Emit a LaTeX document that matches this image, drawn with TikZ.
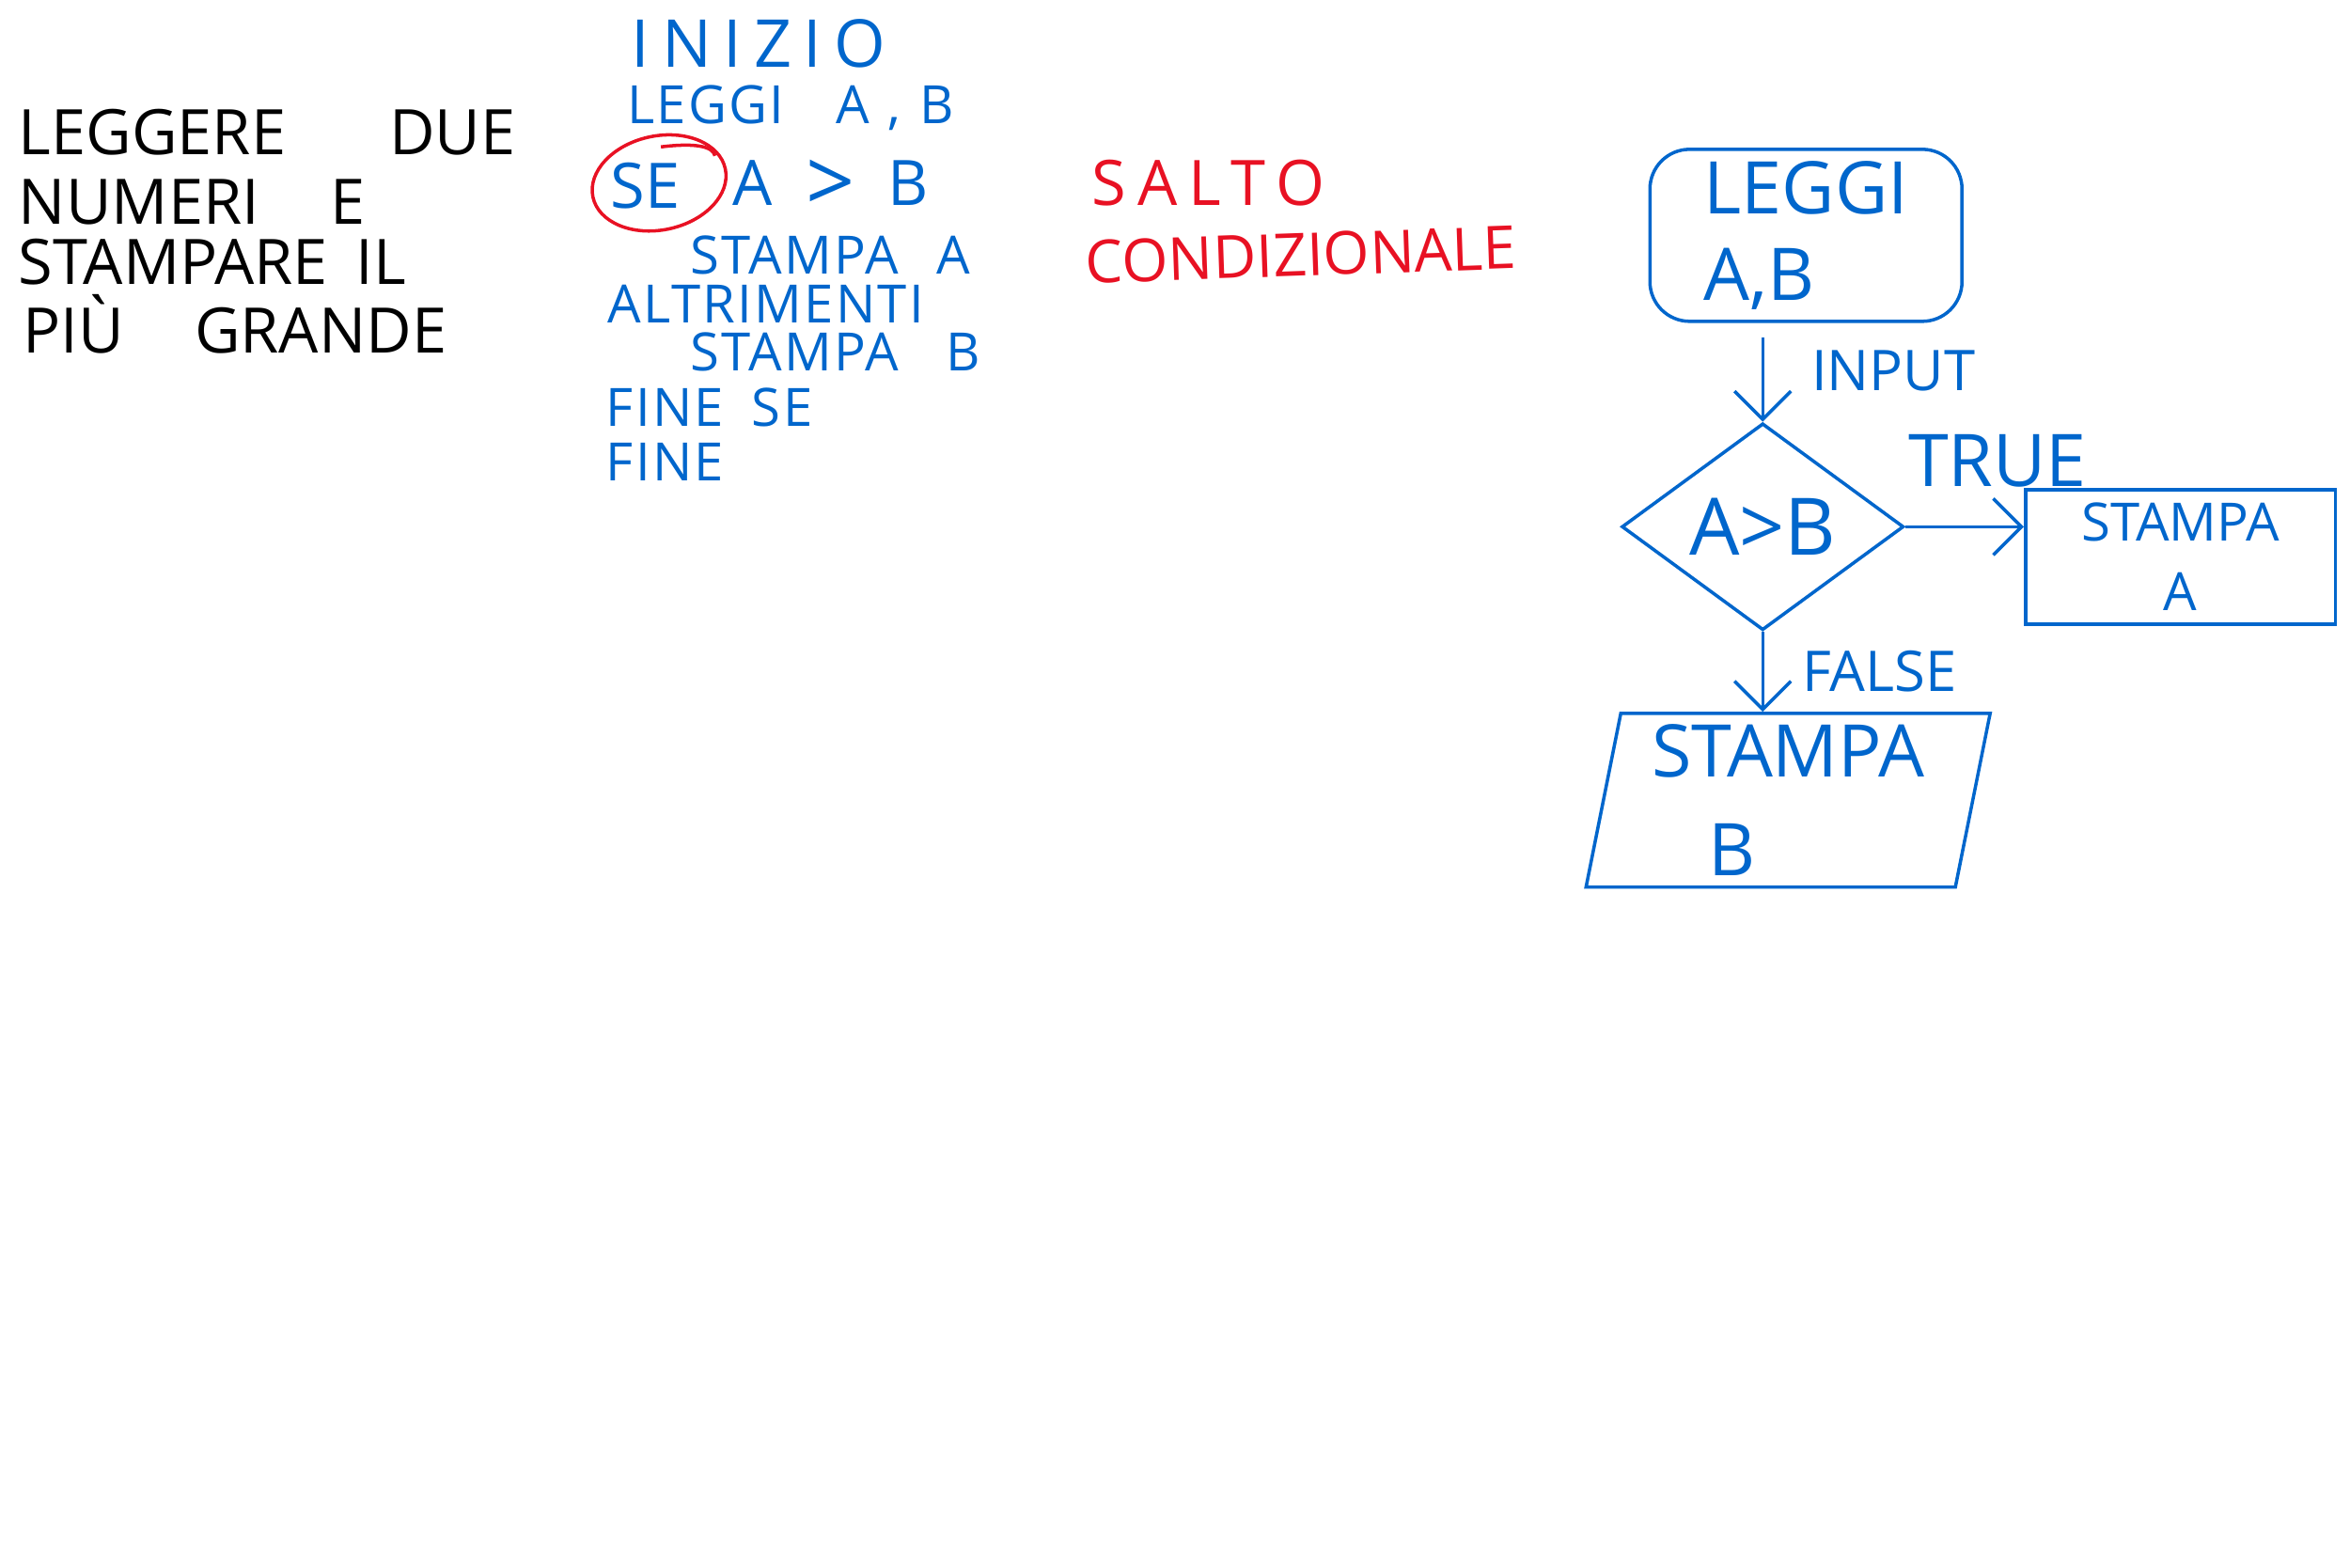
\documentclass[tikz,border=0pt]{standalone}
\usepackage{fontspec}
\setmainfont{Open Sans}
\newfontfamily\handwide[LetterSpace=18]{Open Sans}
\newfontfamily\handcode[LetterSpace=4]{Open Sans}
\usepackage{tikz}
\usetikzlibrary{shapes.geometric, arrows.meta, positioning}
\definecolor{penblue}{RGB}{0,102,204}
\definecolor{penred}{RGB}{232,17,35}
\tikzset{
  txt/.style={anchor=west, inner sep=0pt, font=\fontsize{19}{22}\selectfont},
  code/.style={txt, text=penblue, font=\handcode\fontsize{16}{19}\selectfont},
  note/.style={txt, text=penred, font=\fontsize{18}{22}\selectfont},
  box/.style={draw=penblue, line width=1pt, align=center, text=penblue},
  arr/.style={-{Straight Barb[length=3mm, width=6mm]}, draw=penblue, line width=1pt},
  lbl/.style={text=penblue, inner sep=0pt, font=\fontsize{17}{20}\selectfont},
}

\begin{document}
\begin{tikzpicture}[x=0.01594cm, y=-0.01594cm]
  \useasboundingbox (0,0) rectangle (1568,1046);
  % the problem
  \node[txt] (leggere) at (12,88) {LEGGERE\hspace{1.1cm}DUE};
  \node[txt] (numeri) at (12,135) {NUMERI\hspace{0.75cm}E};
  \node[txt] (stampare) at (12,175) {STAMPARE\hspace{0.3cm}IL};
  \node[txt] (piu) at (15,216) {PIÙ\hspace{0.75cm}GRANDE};
  % pseudocode
  \node[code, font=\handwide\fontsize{20}{24}\selectfont] (inizio) at (421,29) {INIZIO};
  \node[code] (leggiab) at (418,72) {LEGGI\hspace{0.55cm}A\hspace{0.2cm},\hspace{0.2cm}B};
  \node[code, font=\fontsize{19}{22}\selectfont] (se) at (407,124) {SE};
  \node[code, font=\fontsize{19}{22}\selectfont, right=0.55cm of se] (cond)
    {A\hspace{0.35cm}\raisebox{-2pt}{\fontsize{26}{26}\selectfont >}\hspace{0.35cm}B};
  \node[code] (stampaa) at (460,170) {STAMPA\hspace{0.4cm}A};
  \node[code] (altrimenti) at (405,203) {ALTRIMENTI};
  \node[code] (stampab) at (460,235) {STAMPA\hspace{0.5cm}B};
  \node[code] (finese) at (404,272) {FINE\hspace{0.3cm}SE};
  \node[code] (fine) at (404,308) {FINE};
  \draw[penred, line width=1pt, rotate around={12:([xshift=0.15cm]se.center)}]
    ([xshift=0.15cm]se.center) ellipse [x radius=0.72cm, y radius=0.5cm];
  \draw[penred, line width=1pt] (441,98) .. controls (465,95) and (476,98) .. (477,104);
  % note
  \node[note, font=\handwide\fontsize{19}{22}\selectfont] (salto) at (728,122) {SALTO};
  \node[note, rotate=2] (condiz) at (724,175) {CONDIZIONALE};
  % flowchart
  \node[box, rounded corners=12pt, minimum width=3.32cm, minimum height=1.83cm, align=left,
    font=\fontsize{22}{26}\selectfont] (leggi) at (1205,157) {LEGGI\\A,B};
  \node[box, diamond, aspect=1.4, inner sep=0pt, minimum width=3.0cm, minimum height=2.2cm,
    font=\fontsize{24}{28}\selectfont, below=1.05cm of leggi, xshift=-0.46cm] (test) {A>B};
  \node[box, minimum width=3.3cm, minimum height=1.43cm, font=\fontsize{16}{21}\selectfont,
    right=1.26cm of test, yshift=-0.32cm] (outa) {STAMPA\\A};
  \node[box, trapezium, trapezium left angle=80, trapezium right angle=100, trapezium stretches=true,
    minimum width=4.3cm, minimum height=1.75cm, align=left, font=\fontsize{22}{30}\selectfont,
    below=0.85cm of test, xshift=0.27cm] (outb) {STAMPA\\\hspace*{0.6cm}B};
  \draw[arr] ([yshift=-0.15cm]leggi.south -| test.north) -- (test.north)
    node[lbl, pos=0.4, right=0.5cm] {INPUT};
  \draw[arr] (test.east) -- (test.east -| outa.west)
    node[lbl, midway, above=0.4cm, xshift=0.35cm, font=\fontsize{22}{24}\selectfont] {TRUE};
  \draw[arr] (test.south) -- (test.south |- outb.north)
    node[lbl, midway, right=0.4cm] {FALSE};
\end{tikzpicture}
\end{document}
